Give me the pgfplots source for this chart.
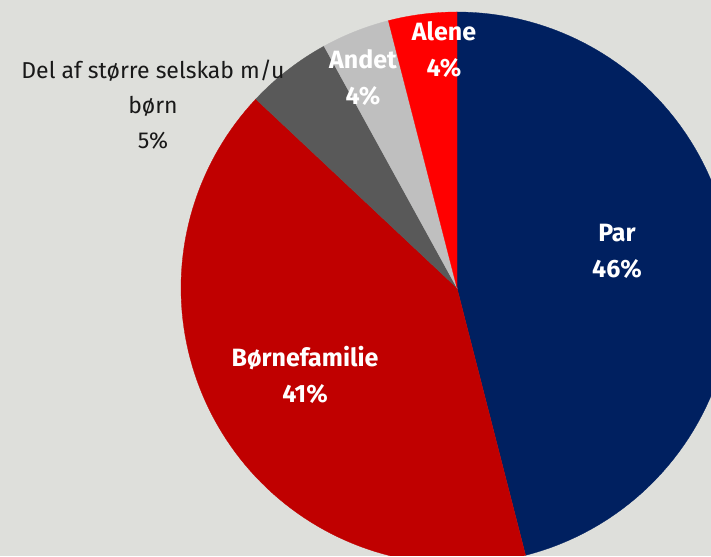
\documentclass[border=0pt]{standalone}
\usepackage{pgfplots}
\pgfplotsset{compat=1.18}
\usepackage{fontspec}
\setmainfont{Fira Sans}

\definecolor{cPar}{HTML}{002060}
\definecolor{cBorn}{HTML}{C00000}
\definecolor{cDel}{HTML}{595959}
\definecolor{cAndet}{HTML}{BFBFBF}
\definecolor{cAlene}{HTML}{FF0000}
\definecolor{bg}{HTML}{DEDFDB}

% shares in percent
\def\vPar{46}
\def\vBorn{41}
\def\vDel{5}
\def\vAndet{4}
\def\vAlene{4}

% pie centre and radius (axis units = pt)
\def\cx{457}
\def\cy{268}
\def\rr{276}

\pgfmathsetmacro{\aA}{90}
\pgfmathsetmacro{\aB}{\aA-3.6*\vPar}
\pgfmathsetmacro{\aC}{\aB-3.6*\vBorn}
\pgfmathsetmacro{\aD}{\aC-3.6*\vDel}
\pgfmathsetmacro{\aE}{\aD-3.6*\vAndet}
\pgfmathsetmacro{\aF}{\aE-3.6*\vAlene}

\begin{document}
\begin{tikzpicture}
\fill[bg] (0,0) rectangle (711pt,556pt);
\begin{axis}[
  at={(0,0)}, anchor=south west,
  width=711pt, height=556pt, scale only axis,
  xmin=0, xmax=711, ymin=0, ymax=556,
  hide axis, clip=true,
  every axis plot/.append style={samples=90, line width=0.3pt},
]
\addplot[fill=cPar,   draw=cPar,   domain=\aB:\aA] ({\cx+\rr*cos(x)},{\cy+\rr*sin(x)}) -- (axis cs:\cx,\cy) -- cycle;
\addplot[fill=cBorn,  draw=cBorn,  domain=\aC:\aB] ({\cx+\rr*cos(x)},{\cy+\rr*sin(x)}) -- (axis cs:\cx,\cy) -- cycle;
\addplot[fill=cDel,   draw=cDel,   domain=\aD:\aC] ({\cx+\rr*cos(x)},{\cy+\rr*sin(x)}) -- (axis cs:\cx,\cy) -- cycle;
\addplot[fill=cAndet, draw=cAndet, domain=\aE:\aD] ({\cx+\rr*cos(x)},{\cy+\rr*sin(x)}) -- (axis cs:\cx,\cy) -- cycle;
\addplot[fill=cAlene, draw=cAlene, domain=\aF:\aE] ({\cx+\rr*cos(x)},{\cy+\rr*sin(x)}) -- (axis cs:\cx,\cy) -- cycle;

\node[text=white, font=\bfseries\fontsize{25}{36}\selectfont, align=center] at (axis cs:617,305) {Par\\\vPar\%};
\node[text=white, font=\bfseries\fontsize{25}{36}\selectfont, align=center] at (axis cs:305,181) {Børnefamilie\\\vBorn\%};
\node[text=white, font=\bfseries\fontsize{25}{36}\selectfont, align=center] at (axis cs:363,478) {Andet\\\vAndet\%};
\node[text=white, font=\bfseries\fontsize{25}{36}\selectfont, align=center] at (axis cs:444,506) {Alene\\\vAlene\%};
\node[text=black!90, font=\fontsize{23}{35}\selectfont, align=center] at (axis cs:153,451) {Del af større selskab m/u\\børn\\\vDel\%};
\end{axis}
\end{tikzpicture}
\end{document}
